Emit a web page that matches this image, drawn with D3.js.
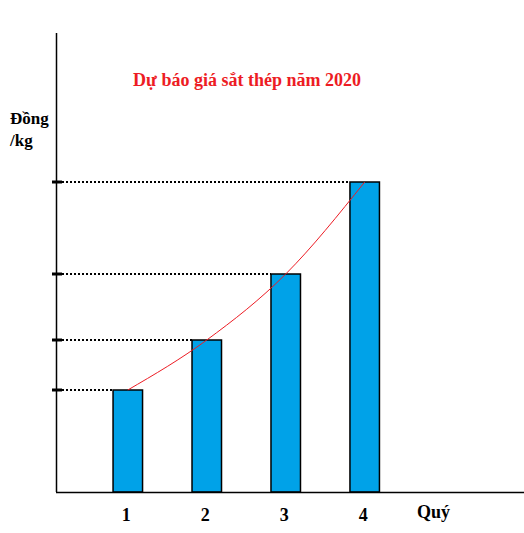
<!DOCTYPE html><html><head><meta charset="utf-8"><script src="https://cdn.jsdelivr.net/npm/d3@7"></script>
<style>body{margin:0;background:#fff}</style></head><body><svg id="c" width="524" height="533"></svg><script>
const quarters=[1,2,3,4];
const values=[102,152,218,310];
const tickLabels=["1","2","3","4"];
const svg=d3.select("#c");
const x=d3.scaleLinear().domain([1,4]).range([127.8,364.7]);
const y=d3.scaleLinear().domain([0,459]).range([492,33]);
const bw=29.5;
const font="Liberation Serif, Times New Roman, serif";
// dotted guides
svg.selectAll(".g").data(values).join("line").attr("x1",58).attr("x2",(d,i)=>x(quarters[i])-bw/2)
 .attr("y1",d=>y(d)).attr("y2",d=>y(d)).attr("stroke","#000").attr("stroke-width",2).attr("stroke-dasharray","2,2");
svg.selectAll(".t").data(values).join("line").attr("x1",52).attr("x2",62).attr("y1",d=>y(d)).attr("y2",d=>y(d)).attr("stroke","#000").attr("stroke-width",3);
// bars
svg.selectAll(".b").data(values).join("rect").attr("x",(d,i)=>x(quarters[i])-bw/2).attr("width",bw)
 .attr("y",d=>y(d)).attr("height",d=>y(0)-y(d)).attr("fill","#00a2e8").attr("stroke","#000").attr("stroke-width",1.5);
// axes
svg.append("line").attr("x1",56.5).attr("x2",56.5).attr("y1",33).attr("y2",492).attr("stroke","#000").attr("stroke-width",1.5);
svg.append("line").attr("x1",56).attr("x2",524).attr("y1",492.5).attr("y2",492.5).attr("stroke","#000").attr("stroke-width",1.5);
// red curve
svg.append("path").datum(values).attr("d",d3.line().x((d,i)=>x(quarters[i])).y(d=>y(d)).curve(d3.curveMonotoneX))
 .attr("fill","none").attr("stroke","#ed1c24").attr("stroke-width",1);
svg.selectAll(".xl").data(tickLabels).join("text").attr("x",(d,i)=>x(quarters[i])-1.5).attr("y",521).attr("text-anchor","middle")
 .attr("font-family",font).attr("font-weight","bold").attr("font-size",18).text(d=>d);
svg.append("text").attr("x",417).attr("y",518).attr("font-family",font).attr("font-weight","bold").attr("font-size",18).text("Quý");
svg.append("text").attr("x",10).attr("y",124).attr("font-family",font).attr("font-weight","bold").attr("font-size",17).text("Đồng");
svg.append("text").attr("x",10).attr("y",146).attr("font-family",font).attr("font-weight","bold").attr("font-size",17).text("/kg");
svg.append("text").attr("x",247).attr("y",86).attr("text-anchor","middle").attr("fill","#ed1c24").attr("font-family",font).attr("font-weight","bold").attr("font-size",18).text("Dự báo giá sắt thép năm 2020");
</script></body></html>
